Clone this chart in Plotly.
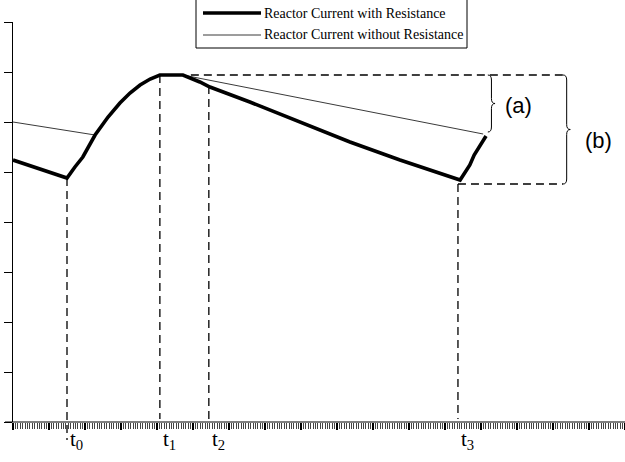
import plotly.graph_objects as go

# Reactor current waveforms (time in arbitrary units, current in arbitrary units)
t_with = [0.0, 0.75, 1.5, 1.72, 1.94, 2.28, 2.64, 2.97, 3.25, 3.53, 3.81, 4.08, 4.72,
          5.19, 5.47, 6.58, 7.97, 9.36, 10.75, 11.58, 12.42, 12.69, 12.81, 13.14]
i_with = [5.24, 5.06, 4.88, 5.10, 5.30, 5.74, 6.10, 6.38, 6.58, 6.74, 6.86, 6.94, 6.94,
          6.80, 6.70, 6.40, 6.00, 5.60, 5.24, 5.04, 4.84, 5.14, 5.34, 5.72]

t_without = [0.0, 1.03, 2.25, 2.28, 2.64, 2.97, 3.25, 3.53, 3.81, 4.08, 4.72,
             6.58, 9.36, 13.06]
i_without = [6.00, 5.88, 5.74, 5.74, 6.10, 6.38, 6.58, 6.74, 6.86, 6.94, 6.94,
             6.68, 6.28, 5.76]

series_names = ["Reactor Current with Resistance", "Reactor Current without Resistance"]

# Instants marked on the time axis
instant_names = ["t<sub>0</sub>", "t<sub>1</sub>", "t<sub>2</sub>", "t<sub>3</sub>"]
instant_times = [1.5, 4.08, 5.44, 12.36]
instant_tops = [4.88, 6.94, 6.72, 4.76]

# Current levels used by the dimension braces
peak_level = 6.94
end_without_level = 5.80
end_with_level = 4.76

X_RANGE = [0, 17]
Y_RANGE = [0, 8]

W, H = 625, 462
M_L, M_R, M_T, M_B = 13, 0, 22, 40
PW, PH = W - M_L - M_R, H - M_T - M_B

THICK = dict(color="black", width=3.6)
THIN = dict(color="#3a3a3a", width=1)

fig = go.Figure()
fig.add_trace(go.Scatter(x=t_without, y=i_without, mode="lines",
                         name=series_names[1], line=THIN, showlegend=False))
fig.add_trace(go.Scatter(x=t_with, y=i_with, mode="lines",
                         name=series_names[0], line=THICK, showlegend=False))

dash = "8px,5px"
DASHED = dict(color="black", width=1.3, dash=dash)


def xdom(x):
    return (x - X_RANGE[0]) / (X_RANGE[1] - X_RANGE[0])


def ydom(y):
    return (y - Y_RANGE[0]) / (Y_RANGE[1] - Y_RANGE[0])


def px_x(p):
    # pixel column -> paper fraction
    return (p - M_L) / PW


def px_y(p):
    # pixel row -> paper fraction
    return (H - M_B - p) / PH


shapes = []
# t0 marker runs through the time axis
shapes.append(dict(type="line", xref="x domain", yref="y domain",
                   x0=xdom(instant_times[0]), x1=xdom(instant_times[0]),
                   y0=ydom(instant_tops[0]), y1=ydom(-0.36), line=DASHED))
for tx, ty in zip(instant_times[1:], instant_tops[1:]):
    shapes.append(dict(type="line", xref="x", yref="y", x0=tx, x1=tx, y0=ty, y1=0.06,
                       line=DASHED))

brace_a_x = 13.19
brace_b_x = 15.28
# horizontal reference lines
shapes.append(dict(type="line", xref="x", yref="y", x0=4.94, x1=brace_b_x,
                   y0=peak_level, y1=peak_level, line=DASHED))
shapes.append(dict(type="line", xref="x", yref="y", x0=instant_times[3], x1=brace_b_x,
                   y0=end_with_level, y1=end_with_level, line=DASHED))


def brace(x0, ytop, ybot, d=0.1, r=0.1):
    ym = (ytop + ybot) / 2
    return (f"M {x0},{ytop} Q {x0 + d},{ytop} {x0 + d},{ytop - r} "
            f"L {x0 + d},{ym + r} Q {x0 + d},{ym} {x0 + 2 * d},{ym} "
            f"Q {x0 + d},{ym} {x0 + d},{ym - r} "
            f"L {x0 + d},{ybot + r} Q {x0 + d},{ybot} {x0},{ybot}")


shapes.append(dict(type="path", xref="x", yref="y",
                   path=brace(brace_a_x, peak_level, end_without_level),
                   line=dict(color="black", width=1)))
shapes.append(dict(type="path", xref="x", yref="y",
                   path=brace(brace_b_x, peak_level, end_with_level),
                   line=dict(color="black", width=1)))

# time axis line, extending slightly left of the current axis
shapes.append(dict(type="line", xref="paper", yref="paper", x0=px_x(5), x1=1, y0=0, y1=0,
                   line=dict(color="black", width=1.2)))

# legend box with line samples
LEG_L, LEG_R, LEG_T, LEG_B = 196, 467, -1, 48
shapes.append(dict(type="rect", xref="paper", yref="paper",
                   x0=px_x(LEG_L), x1=px_x(LEG_R), y0=px_y(LEG_B), y1=px_y(LEG_T),
                   fillcolor="white", line=dict(color="black", width=1), layer="above"))
row_y = [13, 35]
for ry, style in zip(row_y, [THICK, THIN]):
    shapes.append(dict(type="line", xref="paper", yref="paper",
                       x0=px_x(203), x1=px_x(261), y0=px_y(ry), y1=px_y(ry),
                       line=style, layer="above"))

annotations = []
for ry, name in zip(row_y, series_names):
    annotations.append(dict(x=px_x(262), y=px_y(ry), xref="paper", yref="paper", text=name,
                            showarrow=False, xanchor="left", yanchor="middle",
                            font=dict(family="Liberation Serif", size=14, color="black")))
for name, tx in zip(instant_names, instant_times):
    annotations.append(dict(x=tx, xref="x", y=-0.045, yref="paper", text=name,
                            showarrow=False, xanchor="left", yanchor="middle", xshift=1,
                            font=dict(family="Liberation Serif", size=21, color="black")))
annotations.append(dict(x=14.03, y=6.34, xref="x", yref="y", text="(a)", showarrow=False,
                        font=dict(family="Liberation Sans", size=22, color="black")))
annotations.append(dict(x=16.25, y=5.64, xref="x", yref="y", text="(b)", showarrow=False,
                        font=dict(family="Liberation Sans", size=22, color="black")))

fig.update_layout(
    width=W, height=H,
    margin=dict(l=M_L, r=M_R, t=M_T, b=M_B),
    paper_bgcolor="white", plot_bgcolor="white",
    shapes=shapes, annotations=annotations,
    showlegend=False,
    xaxis=dict(range=X_RANGE, showgrid=False, zeroline=False, showline=False,
               showticklabels=False, ticks="outside", dtick=1, ticklen=7, tickwidth=2,
               tickcolor="black",
               minor=dict(dtick=1 / 15, ticks="outside", ticklen=6, tickwidth=1,
                          tickcolor="#444444")),
    yaxis=dict(range=Y_RANGE, showgrid=False, zeroline=False, showline=True,
               linecolor="black", linewidth=1, showticklabels=False,
               ticks="outside", dtick=1, ticklen=8, tickcolor="black", tickwidth=1),
)

fig.write_html("out.html")
